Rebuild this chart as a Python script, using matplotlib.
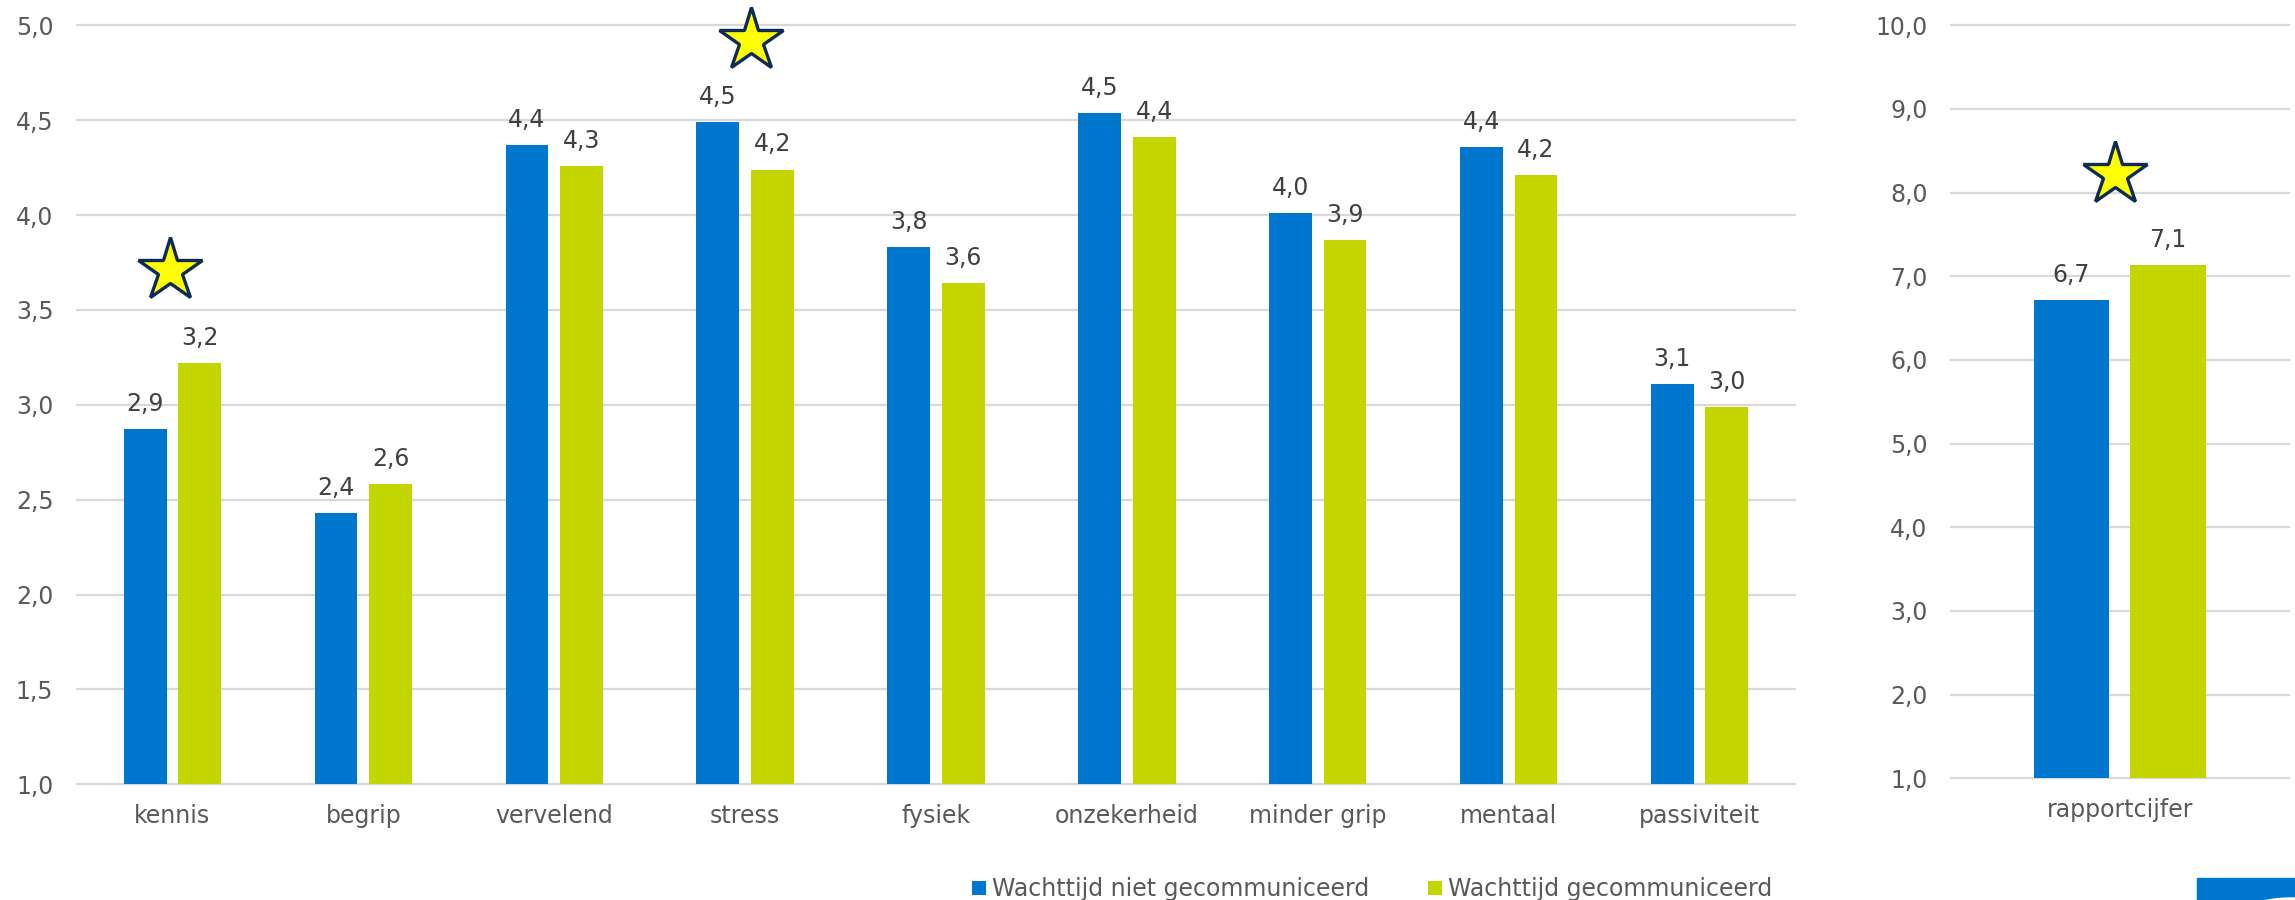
import matplotlib
matplotlib.use("Agg")
import matplotlib.pyplot as plt
import matplotlib.transforms as mtransforms
from matplotlib.patches import Patch, Rectangle, Ellipse
from matplotlib.ticker import FuncFormatter, MultipleLocator
import numpy as np

# ---- data -------------------------------------------------------------
categories = ["kennis", "begrip", "vervelend", "stress", "fysiek",
              "onzekerheid", "minder grip", "mentaal", "passiviteit"]
niet_gecommuniceerd = [2.87, 2.43, 4.37, 4.49, 3.83, 4.54, 4.01, 4.36, 3.11]
gecommuniceerd = [3.22, 2.58, 4.26, 4.24, 3.64, 4.41, 3.87, 4.21, 2.99]

cijfer_label = ["rapportcijfer"]
cijfer_niet = [6.72]
cijfer_wel = [7.13]

series_names = ["Wachttijd niet gecommuniceerd", "Wachttijd gecommuniceerd"]
significant = ["kennis", "stress"]
significant_cijfer = True

# ---- style ------------------------------------------------------------
BLUE = "#0077CF"
GREEN = "#C4D600"
GRID = "#D9D9D9"
TICK = "#595959"
LABEL = "#404040"
FS = 17

plt.rcParams["font.family"] = ["DejaVu Sans"]

W, H = 2295, 900
fig = plt.figure(figsize=(W / 100, H / 100), dpi=100)


def px_axes(x0, y_top, x1, y_bot):
    return fig.add_axes([x0 / W, 1 - y_bot / H, (x1 - x0) / W, (y_bot - y_top) / H])


ax = px_axes(77, 25.3, 1795, 784.3)
ax2 = px_axes(1951, 25.3, 2288.7, 778.3)

comma = FuncFormatter(lambda v, _: f"{v:.1f}".replace(".", ","))
bw, off = 0.224, 0.143


def style(a, ymin, ymax, step):
    a.set_ylim(ymin, ymax)
    a.yaxis.set_major_locator(MultipleLocator(step))
    a.yaxis.set_major_formatter(comma)
    for s in a.spines.values():
        s.set_visible(False)
    a.tick_params(axis="both", length=0, labelsize=FS, labelcolor=TICK)
    a.tick_params(axis="y", pad=17)
    a.tick_params(axis="x", pad=14)
    a.yaxis.grid(True, color=GRID, linewidth=1.6)
    a.set_axisbelow(True)
    for gl in a.get_ygridlines():
        gl.set_clip_on(False)


def draw_bars(a, labels, v1, v2):
    x = np.arange(len(labels))
    b1 = a.bar(x - off, v1, bw, color=BLUE)
    b2 = a.bar(x + off, v2, bw, color=GREEN)
    for bars in (b1, b2):
        for r in bars:
            h = r.get_height()
            a.annotate(f"{h:.1f}".replace(".", ","),
                       (r.get_x() + r.get_width() / 2, h),
                       xytext=(0, 13), textcoords="offset points",
                       ha="center", va="baseline", fontsize=FS, color=LABEL)
    a.set_xticks(x)
    a.set_xticklabels(labels)
    a.set_xlim(-0.5, len(labels) - 0.5)
    return x


def star(a, xc, ytop, dx_px, rise_px):
    tr = a.transData + mtransforms.ScaledTranslation(dx_px / 100, rise_px / 100,
                                                     fig.dpi_scale_trans)
    a.plot([xc], [ytop], marker="*", markersize=48, markerfacecolor="#FFFF00",
           markeredgecolor="#0D2B55", markeredgewidth=2.4, transform=tr,
           clip_on=False, zorder=5)


style(ax, 1, 5, 0.5)
x = draw_bars(ax, categories, niet_gecommuniceerd, gecommuniceerd)

style(ax2, 1, 10, 1)
x2 = draw_bars(ax2, cijfer_label, cijfer_niet, cijfer_wel)

star_shift = {"kennis": (-2, 93), "stress": (6, 82)}
for name in significant:
    i = categories.index(name)
    top = max(niet_gecommuniceerd[i], gecommuniceerd[i])
    dx, rise = star_shift[name]
    star(ax, x[i], top, dx, rise)
if significant_cijfer:
    star(ax2, x2[0], max(cijfer_niet[0], cijfer_wel[0]), -5, 91)

# legend
handles = [Patch(facecolor=BLUE, linewidth=0), Patch(facecolor=GREEN, linewidth=0)]
leg = fig.legend(handles, series_names, loc="center",
                 bbox_to_anchor=(1372 / W, 1 - 889 / H), ncol=2, frameon=False,
                 fontsize=FS, handlelength=0.6, handleheight=0.55,
                 handletextpad=0.25, columnspacing=2.5,
                 borderpad=0, borderaxespad=0)
for t in leg.get_texts():
    t.set_color(TICK)

# corner badge
fig.patches.append(Rectangle((2197 / W, 0), (W - 2197) / W, 22 / H,
                             transform=fig.transFigure, color=BLUE, zorder=0))
fig.patches.append(Ellipse((2292 / W, -8 / H), 80 / W, 20 / H,
                           transform=fig.transFigure, color="white", zorder=1))

fig.savefig("out.png", dpi=100, facecolor="white")
